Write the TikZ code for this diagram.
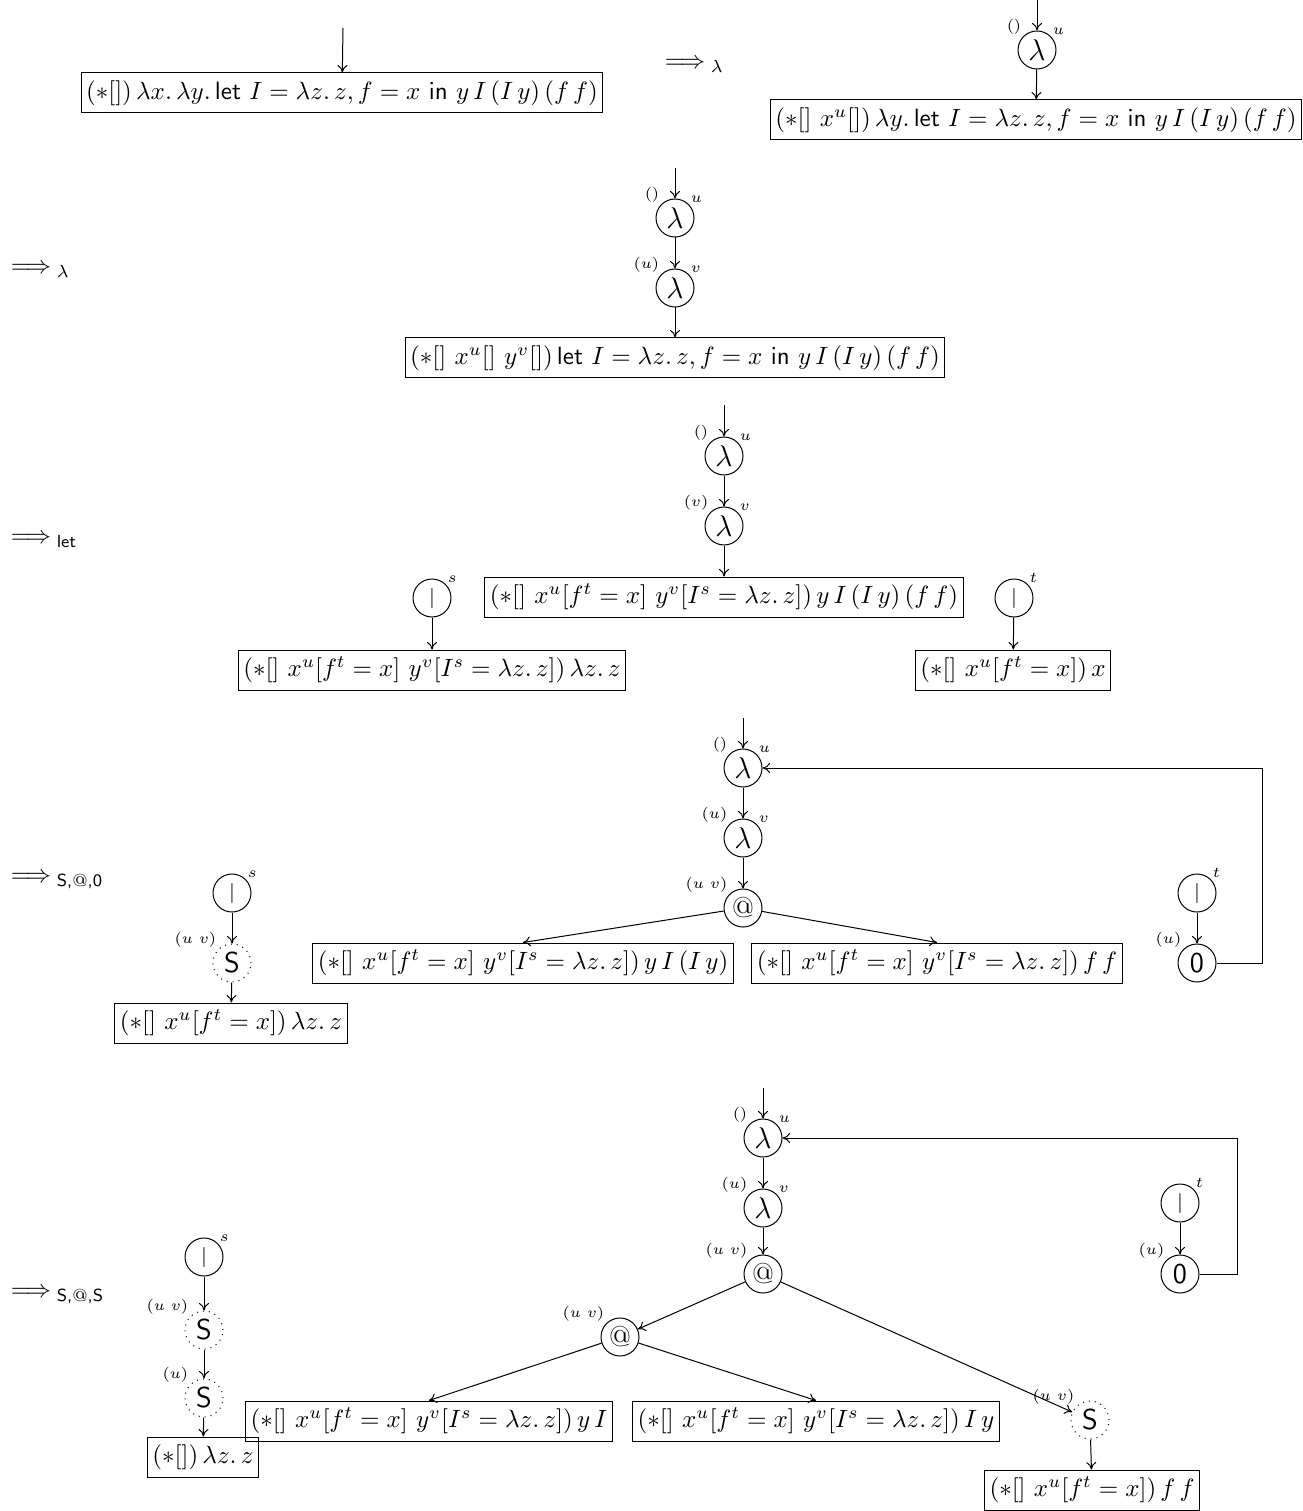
\documentclass[tikz,border=0pt]{standalone}
\usepackage{amsmath,amssymb}
\usetikzlibrary{shapes.geometric,arrows.meta}
\newcommand{\vbar}{{\fontsize{8}{9}\selectfont$|$}}
\begin{document}
\begin{tikzpicture}[x=0.4pt,y=-0.4pt,
  every node/.style={font=\fontsize{10}{12}\selectfont},
  lam/.style={draw, circle, minimum size=15.2pt, inner sep=0pt, font=\fontsize{11.5}{13}\selectfont},
  dotnode/.style={lam, dotted},
  term/.style={draw, rectangle, inner xsep=2pt, inner ysep=2.5pt, minimum height=16pt},
  lbl/.style={font=\fontsize{6.5}{8}\selectfont, inner sep=0.6pt},
  rule/.style={anchor=west},
  arr/.style={-{To[length=3pt,width=4pt]}},
  nw/.style={label={[lbl]135:$#1$}},
  ne/.style={label={[lbl]45:$#1$}}]
\useasboundingbox (0,0) rectangle (1302,1511);

% ---------- row 1
\coordinate (i1) at (343,28);
\node[term] (b1) at (342,93) {$(\ast[])\,\lambda x.\,\lambda y.\,\mathsf{let}\ I = \lambda z.\,z, f = x\ \mathsf{in}\ y\,I\,(I\,y)\,(f\,f)$};
\draw[arr] (i1) -- (b1);

\node[rule] (r1) at (656,66) {$\Longrightarrow_{\;\lambda}$};

\coordinate (i2) at (1037,0);
\node[lam,nw=(),ne=u] (l1) at (1037,50) {$\lambda$};
\node[term] (b2) at (1036,120) {$\left(\ast[]\ x^u[]\right)\lambda y.\,\mathsf{let}\ I = \lambda z.\,z, f = x\ \mathsf{in}\ y\,I\,(I\,y)\,(f\,f)$};
\draw[arr] (i2) -- (l1);
\draw[arr] (l1) -- (b2);

% ---------- row 2
\node[rule] (r2) at (2,271) {$\Longrightarrow_{\;\lambda}$};
\coordinate (i3) at (675,168);
\node[lam,nw=(),ne=u] (l2u) at (675,218) {$\lambda$};
\node[lam,nw=(u),ne=v] (l2v) at (675,288) {$\lambda$};
\node[term] (b3) at (675,358) {$\left(\ast[]\ x^u[]\ y^v[]\right)\mathsf{let}\ I = \lambda z.\,z, f = x\ \mathsf{in}\ y\,I\,(I\,y)\,(f\,f)$};
\draw[arr] (i3) -- (l2u);
\draw[arr] (l2u) -- (l2v);
\draw[arr] (l2v) -- (b3);

% ---------- row 3
\node[rule] (r3) at (2,541) {$\Longrightarrow_{\;\mathsf{let}}$};
\coordinate (i4) at (724,405);
\node[lam,nw=(),ne=u] (l3u) at (724,456) {$\lambda$};
\node[lam,nw=(v),ne=v] (l3v) at (724,526) {$\lambda$};
\node[term] (b4) at (724,597) {$\left(\ast[]\ x^u[f^t = x]\ y^v[I^s = \lambda z.\,z]\right) y\,I\,(I\,y)\,(f\,f)$};
\draw[arr] (i4) -- (l3u);
\draw[arr] (l3u) -- (l3v);
\draw[arr] (l3v) -- (b4);
\node[lam,ne=s] (s3) at (432,598) {\vbar};
\node[term] (b5) at (432,670) {$\left(\ast[]\ x^u[f^t = x]\ y^v[I^s = \lambda z.\,z]\right) \lambda z.\,z$};
\draw[arr] (s3) -- (b5);
\node[lam,ne=t] (t3) at (1014,598) {\vbar};
\node[term] (b6) at (1013,670) {$\left(\ast[]\ x^u[f^t = x]\right) x$};
\draw[arr] (t3) -- (b6);

% ---------- row 4
\node[rule] (r4) at (2,881) {$\Longrightarrow_{\;\textsf{S,}\textrm{@}\textsf{,0}}$};
\coordinate (i5) at (743,718);
\node[lam,nw=(),ne=u] (l4u) at (743,768) {$\lambda$};
\node[lam,nw=(u),ne=v] (l4v) at (743,838) {$\lambda$};
\node[lam,nw=(u\ v)] (a4) at (743,908) {@};
\node[term] (b7) at (523,963) {$\left(\ast[]\ x^u[f^t = x]\ y^v[I^s = \lambda z.\,z]\right) y\,I\,(I\,y)$};
\node[term] (b8) at (937,963) {$\left(\ast[]\ x^u[f^t = x]\ y^v[I^s = \lambda z.\,z]\right) f\,f$};
\draw[arr] (i5) -- (l4u);
\draw[arr] (l4u) -- (l4v);
\draw[arr] (l4v) -- (a4);
\draw[arr] (a4) -- (b7.north);
\draw[arr] (a4) -- (b8.north);
\node[lam,ne=t] (t4) at (1197,893) {\vbar};
\node[lam,nw=(u)] (z4) at (1197,963) {\sffamily 0};
\draw[arr] (t4) -- (z4);
\draw[arr] (z4.east) -- ++(46,0) |- (l4u.east);
\node[lam,ne=s] (s4) at (232,893) {\vbar};
\node[dotnode,nw=(u\ v)] (S4) at (232,963) {\sffamily S};
\node[term] (b9) at (231,1023) {$\left(\ast[]\ x^u[f^t = x]\right)\lambda z.\,z$};
\draw[arr] (s4) -- (S4);
\draw[arr] (S4) -- (b9);

% ---------- row 5
\node[rule] (r5) at (2,1296) {$\Longrightarrow_{\;\textsf{S,}\textrm{@}\textsf{,S}}$};
\coordinate (i6) at (763,1088);
\node[lam,nw=(),ne=u] (l5u) at (763,1138) {$\lambda$};
\node[lam,nw=(u),ne=v] (l5v) at (763,1208) {$\lambda$};
\node[lam,nw=(u\ v)] (a5) at (763,1274) {@};
\node[lam,nw=(u\ v)] (a5b) at (620,1337) {@};
\node[term] (b11) at (429,1421) {$\left(\ast[]\ x^u[f^t = x]\ y^v[I^s = \lambda z.\,z]\right) y\,I$};
\node[term] (b12) at (816,1421) {$\left(\ast[]\ x^u[f^t = x]\ y^v[I^s = \lambda z.\,z]\right) I\,y$};
\node[dotnode,nw=(u\ v)] (S5) at (1090,1420) {\sffamily S};
\node[term] (b13) at (1092,1490) {$\left(\ast[]\ x^u[f^t = x]\right) f\,f$};
\draw[arr] (i6) -- (l5u);
\draw[arr] (l5u) -- (l5v);
\draw[arr] (l5v) -- (a5);
\draw[arr] (a5) -- (a5b);
\draw[arr] (a5) -- (S5);
\draw[arr] (a5b) -- (b11.north);
\draw[arr] (a5b) -- (b12.north);
\draw[arr] (S5) -- (b13);
\node[lam,ne=t] (t5) at (1180,1203) {\vbar};
\node[lam,nw=(u)] (z5) at (1180,1274) {\sffamily 0};
\draw[arr] (t5) -- (z5);
\draw[arr] (z5.east) -- ++(38,0) |- (l5u.east);
\node[lam,ne=s] (s5) at (204,1257) {\vbar};
\node[dotnode,nw=(u\ v)] (S5a) at (204,1330) {\sffamily S};
\node[dotnode,nw=(u)] (S5b) at (204,1398) {\sffamily S};
\node[term] (b10) at (203,1457) {$(\ast[])\,\lambda z.\,z$};
\draw[arr] (s5) -- (S5a);
\draw[arr] (S5a) -- (S5b);
\draw[arr] (S5b) -- (b10);
\end{tikzpicture}
\end{document}
